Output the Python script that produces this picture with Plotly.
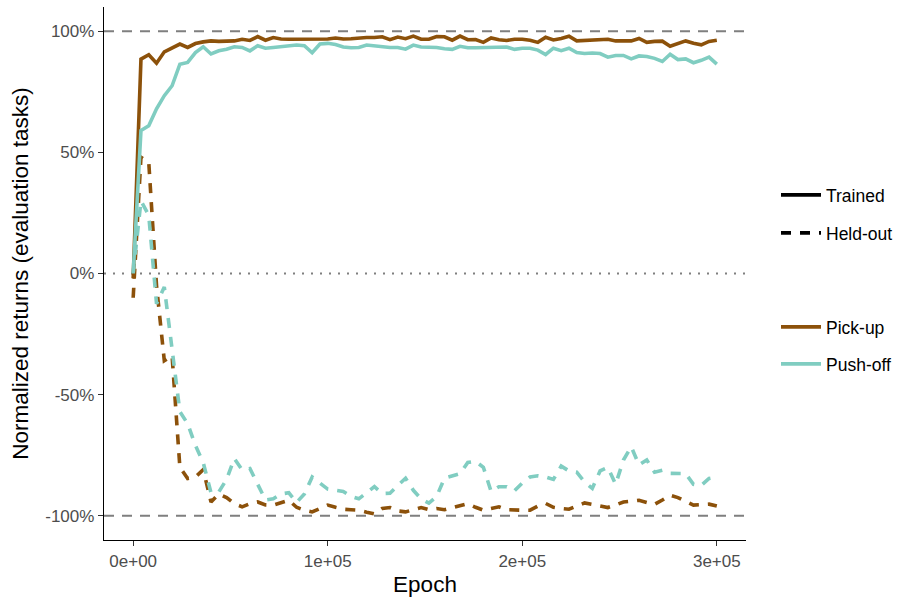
import plotly.graph_objects as go

epochs = [4000 * i for i in range(76)]

pickup_trained = [-2, 88.5, 90.3, 86.8, 91.5, 93.3, 94.7, 93.3, 94.9, 95.6,
                  96.0, 95.8, 96.0, 96.0, 96.7, 96.2, 97.8, 96.3, 97.4, 96.8,
                  96.7, 96.7, 96.5, 96.6, 96.5, 96.8, 97.2, 96.8, 96.9, 97.2,
                  97.4, 97.4, 97.7, 96.5, 97.6, 96.9, 98.0, 96.7, 96.7, 97.8,
                  97.7, 96.3, 98.0, 96.5, 96.6, 95.4, 97.2, 96.5, 96.2, 96.7,
                  96.7, 96.3, 95.4, 97.5, 96.4, 97.0, 97.9, 96.0, 96.2, 96.3,
                  96.7, 96.7, 96.0, 96.0, 96.0, 97.0, 95.4, 95.8, 95.9, 93.8,
                  95.0, 96.0, 95.0, 94.4, 95.8, 96.3]

pushoff_trained = [0, 59, 61, 68, 73.4, 77.5, 86.4, 87.1, 91.2, 93.6,
                   90.6, 91.9, 92.6, 93.6, 93.3, 91.9, 94.0, 93.0, 93.3, 93.7,
                   94.0, 94.3, 94.0, 91.1, 94.7, 95.0, 94.5, 93.5, 93.2, 93.3,
                   94.3, 94.0, 93.5, 93.3, 93.3, 92.6, 94.3, 93.5, 93.4, 93.3,
                   92.8, 92.5, 93.8, 93.2, 93.2, 93.2, 93.2, 93.2, 93.5, 92.5,
                   93.0, 93.0, 92.2, 90.4, 93.0, 92.0, 93.0, 91.2, 90.8, 91.0,
                   90.8, 89.3, 90.0, 90.0, 88.6, 89.8, 89.6, 88.8, 87.5, 90.5,
                   88.3, 88.6, 87.0, 88.0, 89.3, 86.4]

pickup_heldout = [-10, 48, 46, -5, -36, -34, -80, -84.6, -84, -81,
                  -94.3, -91, -92.5, -95, -96.3, -95, -94.3, -95.5, -95.6, -94.5,
                  -93.6, -96.5, -97.7, -98.4, -97, -95.6, -96.5, -97.3, -97.5, -97.7,
                  -98.5, -99.2, -97, -96.6, -98, -98.4, -97.5, -96.6, -97.5, -97,
                  -97.5, -96.6, -96, -95, -96.5, -97.7, -97, -96.3, -97.5, -97.7,
                  -97.7, -97.7, -96, -94.9, -96.5, -97, -97.3, -96, -94.7, -95.3,
                  -95.8, -96.6, -95.5, -94.3, -94, -93.6, -94.5, -95.3, -93.5, -91.5,
                  -92.5, -94, -95.6, -95.4, -95.2, -96]

pushoff_heldout = [0, 30, 24, -12.5, -5.6, -30, -57, -62, -71, -78,
                   -90.5, -90.2, -85, -76.4, -81, -80.5, -87, -93.5, -93, -91,
                   -90.5, -94.5, -91, -84, -86.5, -89, -89.5, -90, -92, -93,
                   -90.5, -88, -90.8, -90.7, -87.5, -84.5, -89.5, -93, -94.8, -92,
                   -84.5, -83.5, -82.6, -78, -77.5, -80, -90, -88, -88, -89.7,
                   -86.5, -84, -83.5, -84, -85, -79.5, -81.5, -82, -86, -88.7,
                   -81.5, -80, -87, -77, -71.5, -79, -77, -82, -81.2, -82.5,
                   -82.6, -82.6, -87, -87.5, -84.6, -84]

x_tickvals = [0, 100000, 200000, 300000]
x_ticktext = ["0e+00", "1e+05", "2e+05", "3e+05"]
y_tickvals = [-100, -50, 0, 50, 100]
y_ticktext = ["-100%", "-50%", "0%", "50%", "100%"]

BROWN = "#8C510A"
TEAL = "#80CDC1"
LW = 3.6
DASH = "10px,9px"
FONT = "Liberation Sans, Arial, sans-serif"

fig = go.Figure()

for ys, col, dash in [(pickup_heldout, BROWN, DASH), (pushoff_heldout, TEAL, DASH),
                      (pickup_trained, BROWN, "solid"), (pushoff_trained, TEAL, "solid")]:
    fig.add_trace(go.Scatter(x=epochs, y=ys, mode="lines", showlegend=False,
                             line=dict(color=col, width=LW, dash=dash)))

legend_items = [("Trained", "black", "solid", "legend"),
                ("Held-out", "black", DASH, "legend2"),
                ("Pick-up", BROWN, "solid", "legend3"),
                ("Push-off", TEAL, "solid", "legend4")]
for name, col, dash, lg in legend_items:
    fig.add_trace(go.Scatter(x=[None], y=[None], mode="lines", name=name,
                             line=dict(color=col, width=LW, dash=dash), legend=lg))

for yv, dash in [(100, "10px,8px"), (-100, "10px,8px"), (0, "2px,7px")]:
    fig.add_shape(type="line", xref="paper", x0=0, x1=1, yref="y", y0=yv, y1=yv,
                  line=dict(color="#7F7F7F", width=1.8, dash=dash), layer="below")

T = 7
B = 57
H = 597 - T - B


def py(p):
    return (597 - B - p) / H


lx = (776 - 104) / 642
lfont = dict(family=FONT, size=17.5, color="black")
common = dict(x=lx, xanchor="left", yanchor="middle", font=lfont, itemwidth=40,
              bgcolor="rgba(0,0,0,0)", borderwidth=0)

fig.update_layout(
    width=899, height=597,
    margin=dict(l=104, r=153, t=T, b=B, autoexpand=False),
    plot_bgcolor="white", paper_bgcolor="white",
    font=dict(family=FONT),
    legend=dict(y=py(195), **common),
    legend2=dict(y=py(233), **common),
    legend3=dict(y=py(327), **common),
    legend4=dict(y=py(364), **common),
    xaxis=dict(range=[-15000, 315000], tickvals=x_tickvals, ticktext=x_ticktext,
               showline=True, linecolor="black", linewidth=1.4, mirror=False,
               ticks="outside", ticklen=5, tickwidth=1.1, tickcolor="#333333",
               tickfont=dict(size=17, color="#4D4D4D"), showgrid=False, zeroline=False,
               automargin=False,
               title=dict(text="Epoch", font=dict(size=22.5, color="black"), standoff=6)),
    yaxis=dict(range=[-110, 110], tickvals=y_tickvals, ticktext=y_ticktext,
               showline=True, linecolor="black", linewidth=1.4, mirror=False,
               ticks="outside", ticklen=5, tickwidth=1.1, tickcolor="#333333",
               tickfont=dict(size=17, color="#4D4D4D"), showgrid=False, zeroline=False,
               automargin=False,
               title=dict(text="Normalized returns (evaluation tasks)",
                          font=dict(size=22.5, color="black"), standoff=10)),
)

fig.write_html("out.html")
